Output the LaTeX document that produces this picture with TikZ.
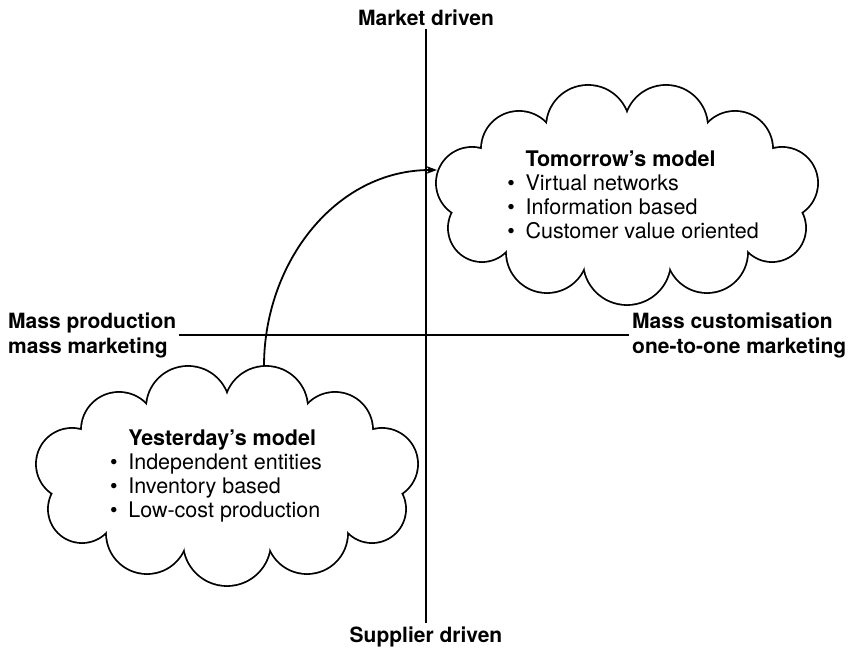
\documentclass[tikz,border=0pt]{standalone}
\usepackage{fontspec}
\setmainfont{TeX Gyre Heros}
\usetikzlibrary{arrows.meta}

\begin{document}
\begin{tikzpicture}[x=1pt, y=1pt,
    axislabel/.style={font=\fontsize{21}{25}\selectfont\bfseries, align=left, inner sep=3pt},
    modeltext/.style={align=left, inner sep=0pt, font=\fontsize{21.5}{24}\selectfont},
    axis/.style={line width=1.8pt}]
    \useasboundingbox (0,0) rectangle (858,647);
    \node[axislabel, anchor=base] (mkt) at (426,621) {Market driven};
    \node[axislabel, anchor=base] (sup) at (426,5) {Supplier driven};
    \node[axislabel, anchor=west] (mp) at (5,312) {Mass production\\mass marketing};
    \node[axislabel, anchor=west] (mc) at (629,312) {Mass customisation\\one-to-one marketing};
    \draw[axis] (mkt.south) -- (sup.north);
    \draw[axis] (mp.east) -- (mc.west);
    \coordinate (yc) at (227,171);
    \coordinate (tc) at (627,452);
    \foreach \c in {yc,tc} {
        \foreach \dx/\dy/\r in {-39/68/42, 39/68/42, 108/46/38, 155/12/36, 145/-33/34, 80/-57/41,
                0/-66/44, -80/-57/41, -145/-33/34, -155/12/36, -108/46/38}
            \fill ([shift={(\dx,\dy)}]\c) circle (\r+0.9);
        \foreach \dx/\dy/\r in {-39/68/42, 39/68/42, 108/46/38, 155/12/36, 145/-33/34, 80/-57/41,
                0/-66/44, -80/-57/41, -145/-33/34, -155/12/36, -108/46/38}
            \fill[white] ([shift={(\dx,\dy)}]\c) circle (\r-0.9);
        \fill[white] (\c) ellipse [x radius=150, y radius=66];
    }
    \node[modeltext] (ytext) at ([xshift=-11pt]yc) {\hphantom{\textbullet\hspace{0.5em}}\textbf{Yesterday’s model}\\
        \textbullet\hspace{0.5em}Independent entities\\
        \textbullet\hspace{0.5em}Inventory based\\
        \textbullet\hspace{0.5em}Low-cost production};
    \node[modeltext] (ttext) at ([xshift=6pt]tc) {\hphantom{\textbullet\hspace{0.5em}}\textbf{Tomorrow’s model}\\
        \textbullet\hspace{0.5em}Virtual networks\\
        \textbullet\hspace{0.5em}Information based\\
        \textbullet\hspace{0.5em}Customer value oriented};
    \coordinate (ystart) at ([shift={(37,110)}]yc);
    \coordinate (tend) at ([shift={(-190,25)}]tc);
    \draw[axis, -{Stealth[length=11pt, width=8pt]}] (ystart) to[out=90, in=180] (tend);
\end{tikzpicture}
\end{document}
